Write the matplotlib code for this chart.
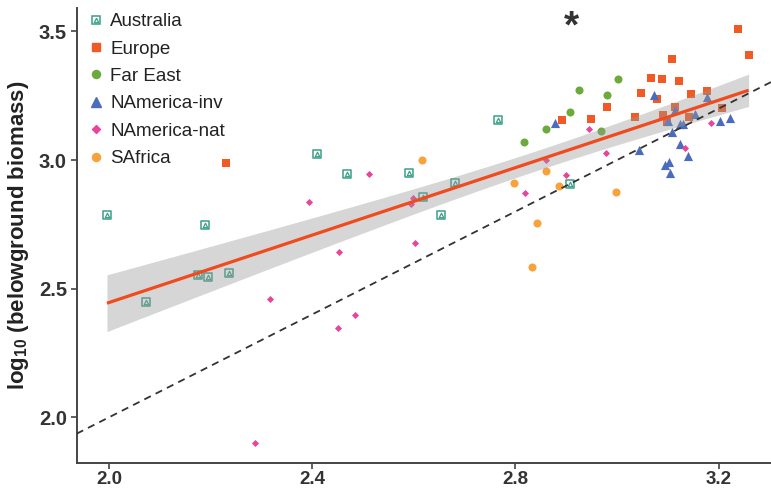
import numpy as np
import matplotlib
matplotlib.use('Agg')
import matplotlib.pyplot as plt
from matplotlib.lines import Line2D
from matplotlib.legend_handler import HandlerTuple

plt.rcParams['font.family'] = ['Liberation Sans', 'DejaVu Sans']
plt.rcParams['mathtext.fontset'] = 'custom'
plt.rcParams['mathtext.rm'] = 'Liberation Sans:bold'
plt.rcParams['mathtext.bf'] = 'Liberation Sans:bold'
plt.rcParams['mathtext.default'] = 'rm'

# ---- data (log10 aboveground vs belowground biomass) ----
aus_x = [1.996, 2.188, 2.175, 2.194, 2.236, 2.073, 2.409, 2.469, 2.591, 2.619, 2.653, 2.766, 2.681, 2.907]
aus_y = [2.786, 2.747, 2.553, 2.546, 2.562, 2.447, 3.023, 2.946, 2.951, 2.857, 2.785, 3.154, 2.909, 2.908]

eur_x = [2.230, 2.892, 2.949, 2.981, 3.035, 3.047, 3.067, 3.089, 3.108, 3.121, 3.078,
         3.091, 3.098, 3.114, 3.145, 3.142, 3.178, 3.206, 3.238, 3.259]
eur_y = [2.987, 3.154, 3.159, 3.207, 3.168, 3.262, 3.317, 3.314, 3.394, 3.307, 3.236,
         3.175, 3.146, 3.207, 3.257, 3.168, 3.268, 3.203, 3.509, 3.409]

fe_x = [2.816, 2.860, 2.907, 2.926, 2.969, 2.981, 3.002]
fe_y = [3.069, 3.119, 3.188, 3.272, 3.114, 3.251, 3.315]

nai_x = [2.877, 3.072, 3.043, 3.101, 3.109, 3.115, 3.124, 3.130, 3.123, 3.140, 3.095,
         3.103, 3.105, 3.154, 3.178, 3.203, 3.222]
nai_y = [3.143, 3.253, 3.040, 3.151, 3.108, 3.194, 3.139, 3.139, 3.061, 3.016, 2.980,
         2.993, 2.951, 3.178, 3.246, 3.152, 3.162]

nan_x = [2.287, 2.316, 2.394, 2.452, 2.451, 2.484, 2.512, 2.598, 2.594, 2.602, 2.819,
         2.860, 2.900, 2.944, 2.978, 3.134, 3.184]
nan_y = [1.901, 2.461, 2.837, 2.641, 2.348, 2.399, 2.946, 2.851, 2.828, 2.676, 2.870,
         3.000, 2.942, 3.120, 3.026, 3.045, 3.145]

saf_x = [2.617, 2.797, 2.860, 2.886, 2.997, 2.843, 2.833]
saf_y = [3.000, 2.911, 2.957, 2.900, 2.876, 2.756, 2.585]

x_ticks = [2.0, 2.4, 2.8, 3.2]
y_ticks = [2.0, 2.5, 3.0, 3.5]
x_tick_labels = ['2.0', '2.4', '2.8', '3.2']
y_tick_labels = ['2.0', '2.5', '3.0', '3.5']

c_aus = '#3A9F87'
c_eur = '#F15A24'
c_fe = '#6CAA3C'
c_nai = '#4A6BBE'
c_nan = '#E8449A'
c_saf = '#F8A23A'
c_txt = '#333333'

fig = plt.figure(figsize=(7.71, 4.90), dpi=100)
ax = fig.add_axes([76.7 / 771, 1 - 463 / 490, 1 - 76.7 / 771, (463 - 8) / 490])

# points
ax.scatter(aus_x, aus_y, marker='s', s=5.6**2, facecolors='white', edgecolors=c_aus, linewidths=1.1, zorder=2)
ax.scatter(aus_x, aus_y, marker='^', s=3.2**2, facecolors='white', edgecolors=c_aus, linewidths=0.9, zorder=2)
ax.scatter(eur_x, eur_y, marker='s', s=5.6**2, color=c_eur, linewidths=0, zorder=2)
ax.scatter(fe_x, fe_y, marker='o', s=5.8**2, color=c_fe, linewidths=0, zorder=2)
ax.scatter(nai_x, nai_y, marker='^', s=6.6**2, color=c_nai, linewidths=0, zorder=2)
ax.scatter(nan_x, nan_y, marker='D', s=3.6**2, color=c_nan, linewidths=0, zorder=2)
ax.scatter(saf_x, saf_y, marker='o', s=5.8**2, color=c_saf, linewidths=0, zorder=2)

# linear fit with 95% CI over all points
X = np.array(aus_x + eur_x + fe_x + nai_x + nan_x + saf_x)
Y = np.array(aus_y + eur_y + fe_y + nai_y + nan_y + saf_y)
n = len(X)
b, a = np.polyfit(X, Y, 1)
resid = Y - (a + b * X)
s_err = np.sqrt(np.sum(resid ** 2) / (n - 2))
xm = X.mean()
sxx = np.sum((X - xm) ** 2)
xs = np.linspace(X.min(), X.max(), 200)
ys = a + b * xs
t_val = 1.99
se = s_err * np.sqrt(1.0 / n + (xs - xm) ** 2 / sxx)
ax.fill_between(xs, ys - t_val * se, ys + t_val * se, color='#999999', alpha=0.4, linewidth=0, zorder=3)
ax.plot(xs, ys, color='#F24A1F', linewidth=2.3, zorder=4, solid_capstyle='butt')

# 1:1 line
ax.axline((2.0, 2.0), (3.0, 3.0), color='#333333', linestyle=(0, (4, 3)), linewidth=1.3, zorder=4)

ax.set_xlim(1.9364, 3.303)
ax.set_ylim(1.8224, 3.591)
ax.set_xticks(x_ticks)
ax.set_xticklabels(x_tick_labels)
ax.set_yticks(y_ticks)
ax.set_yticklabels(y_tick_labels)
for sp in ['top', 'right']:
    ax.spines[sp].set_visible(False)
for sp in ['left', 'bottom']:
    ax.spines[sp].set_color('#444444')
    ax.spines[sp].set_linewidth(1.4)
ax.tick_params(axis='both', colors='#444444', width=1.2, length=4, labelcolor=c_txt)
ax.tick_params(axis='y', labelsize=14.5, pad=3)
ax.tick_params(axis='x', labelsize=13.5, pad=2)
for lab in ax.get_xticklabels() + ax.get_yticklabels():
    lab.set_fontweight('bold')

ax.set_ylabel(r'log$_{10}$ (belowground biomass)', fontsize=16, fontweight='bold', color='#222222', labelpad=6)

ax.text(2.91, 3.585, '*', fontsize=28, fontweight='bold', color='#333333', ha='center', va='top')

# legend
h_aus = (Line2D([], [], marker='s', linestyle='none', markersize=5.6, markerfacecolor='white',
                markeredgecolor=c_aus, markeredgewidth=1.1),
         Line2D([], [], marker='^', linestyle='none', markersize=3.2, markerfacecolor='white',
                markeredgecolor=c_aus, markeredgewidth=0.9))
handles = [h_aus,
           Line2D([], [], marker='s', linestyle='none', markersize=5.6, color=c_eur),
           Line2D([], [], marker='o', linestyle='none', markersize=5.8, color=c_fe),
           Line2D([], [], marker='^', linestyle='none', markersize=6.6, color=c_nai),
           Line2D([], [], marker='D', linestyle='none', markersize=3.6, color=c_nan),
           Line2D([], [], marker='o', linestyle='none', markersize=5.8, color=c_saf)]
labels = ['Australia', 'Europe', 'Far East', 'NAmerica-inv', 'NAmerica-nat', 'SAfrica']
leg = ax.legend(handles, labels, loc='upper left', bbox_to_anchor=(89 / 771, 1 - 13 / 490),
                bbox_transform=fig.transFigure, frameon=False, fontsize=13.5,
                handler_map={tuple: HandlerTuple(ndivide=1, pad=0)},
                handlelength=0.7, handletextpad=0.43, labelspacing=0.55, borderpad=0, borderaxespad=0)
for t in leg.get_texts():
    t.set_color('#222222')

fig.savefig('out.png', dpi=100)
